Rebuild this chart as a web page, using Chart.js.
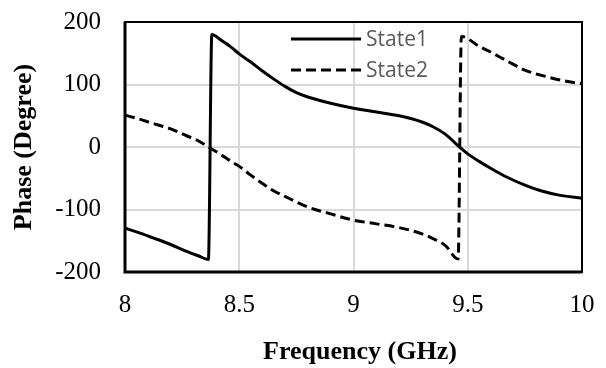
<!DOCTYPE html>
<html>
<head>
<meta charset="utf-8">
<script src="https://cdn.jsdelivr.net/npm/chart.js@4.4.1/dist/chart.umd.min.js"></script>
<style>
    html, body { margin: 0; padding: 0; background: #fff; }
    #wrap { width: 606px; height: 368px; position: relative; }
</style>
</head>
<body>
<div id="wrap"><canvas id="phaseChart"></canvas></div>
<script>
// Phase response, two states (GHz / degrees)
const state1Freq  = [8.0, 8.06, 8.12, 8.2, 8.27, 8.32, 8.365, 8.38, 8.42, 8.46, 8.5, 8.55, 8.6, 8.65, 8.7, 8.75, 8.8, 8.9, 9.0, 9.1, 9.2, 9.3, 9.35, 9.4, 9.47, 9.5, 9.55, 9.6, 9.67, 9.75, 9.82, 9.9, 10.0];
const state1Phase = [-130, -137, -145, -156, -167, -174, -180, 180, 171, 161, 149, 136, 122, 109, 97, 87, 80, 70, 62, 56, 50, 40, 32, 21, -2, -11, -23, -34, -48, -61, -70, -77, -82];

const state2Freq  = [8.0, 8.06, 8.12, 8.2, 8.27, 8.32, 8.365, 8.42, 8.46, 8.5, 8.55, 8.6, 8.65, 8.7, 8.75, 8.8, 8.9, 9.0, 9.1, 9.2, 9.3, 9.35, 9.4, 9.458, 9.472, 9.55, 9.6, 9.67, 9.75, 9.85, 9.92, 10.0];
const state2Phase = [51, 45, 38, 29, 18, 10, 0, -12, -22, -31, -45, -58, -70, -79, -88, -96, -107, -117, -123, -129, -139, -147, -157, -179, 177, 161, 152, 138, 123, 112, 106, 101];

const seriesLabels = ['State1', 'State2'];
const xTicks = [8, 8.5, 9, 9.5, 10];
const yTicks = [-200, -100, 0, 100, 200];

const toPoints = (xs, ys) => xs.map((x, i) => ({ x: x, y: ys[i] }));

const serif = '"Times New Roman", "Liberation Serif", serif';

// Legend drawn inside the plot area, Excel style
const insideLegend = {
    id: 'insideLegend',
    afterDatasetsDraw(chart) {
        const ctx = chart.ctx;
        const rows = [39, 70];
        ctx.save();
        chart.data.datasets.forEach((ds, i) => {
            const y = rows[i];
            ctx.beginPath();
            ctx.setLineDash(ds.borderDash || []);
            ctx.lineWidth = ds.borderWidth;
            ctx.strokeStyle = ds.borderColor;
            ctx.moveTo(291, y);
            ctx.lineTo(361, y);
            ctx.stroke();
            ctx.setLineDash([]);
            ctx.fillStyle = '#595959';
            ctx.font = '21px "Open Sans", "Noto Sans", sans-serif';
            ctx.textBaseline = 'middle';
            ctx.textAlign = 'left';
            ctx.fillText(ds.label, 366, y + 1);
        });
        ctx.restore();
    }
};

// Black frame round the plot area
const plotFrame = {
    id: 'plotFrame',
    afterDatasetsDraw(chart) {
        const { left, top, right, bottom } = chart.chartArea;
        const ctx = chart.ctx;
        ctx.save();
        ctx.strokeStyle = '#000';
        ctx.lineWidth = 2;
        ctx.strokeRect(left, top, right - left, bottom - top);
        ctx.lineWidth = 3;
        ctx.beginPath();
        ctx.moveTo(left, top);
        ctx.lineTo(left, bottom);
        ctx.lineTo(right, bottom);
        ctx.stroke();
        ctx.restore();
    }
};

// fixed axis boxes, no extra padding for overhanging labels
const fixXAxis = (scale) => {
    scale.height = 96;
    scale.paddingLeft = 0;
    scale.paddingRight = 0;
};
const fixYAxis = (scale) => {
    scale.width = 125;
    scale.paddingTop = 0;
    scale.paddingBottom = 0;
};

const config = {
    type: 'line',
    data: {
        datasets: [
            {
                label: seriesLabels[0],
                data: toPoints(state1Freq, state1Phase),
                borderColor: '#000',
                borderWidth: 3,
                pointRadius: 0,
                cubicInterpolationMode: 'monotone',
                fill: false
            },
            {
                label: seriesLabels[1],
                data: toPoints(state2Freq, state2Phase),
                borderColor: '#000',
                borderWidth: 3,
                borderDash: [10, 5],
                pointRadius: 0,
                cubicInterpolationMode: 'monotone',
                fill: false
            }
        ]
    },
    options: {
        responsive: true,
        maintainAspectRatio: false,
        animation: false,
        layout: {
            padding: { top: 22, right: 24, left: 0, bottom: 0 }
        },
        plugins: {
            legend: { display: false },
            tooltip: { enabled: false }
        },
        scales: {
            x: {
                type: 'linear',
                min: 8,
                max: 10,
                afterBuildTicks: (scale) => { scale.ticks = xTicks.map(v => ({ value: v })); },
                afterFit: fixXAxis,
                grid: { color: '#d9d9d9', lineWidth: 2, drawTicks: false },
                border: { display: false },
                ticks: {
                    padding: 18,
                    color: '#000',
                    font: { family: serif, size: 25 },
                    callback: (v) => String(v)
                },
                title: {
                    display: true,
                    // leading spaces nudge the centred title a little to the right
                    text: '  Frequency (GHz)',
                    color: '#000',
                    font: { family: serif, size: 26, weight: 'bold' },
                    padding: { top: 0, bottom: 0 }
                }
            },
            y: {
                min: -200,
                max: 200,
                afterBuildTicks: (scale) => { scale.ticks = yTicks.map(v => ({ value: v })); },
                afterFit: fixYAxis,
                grid: { color: '#d9d9d9', lineWidth: 2, drawTicks: false },
                border: { display: false },
                ticks: {
                    padding: 24,
                    color: '#000',
                    font: { family: serif, size: 25 },
                    callback: (v) => String(v)
                },
                title: {
                    display: true,
                    text: 'Phase (Degree)',
                    color: '#000',
                    font: { family: serif, size: 26, weight: 'bold' },
                    padding: { top: 9, bottom: 0 }
                }
            }
        }
    },
    plugins: [plotFrame, insideLegend]
};

new Chart(document.getElementById('phaseChart'), config);
</script>
</body>
</html>
